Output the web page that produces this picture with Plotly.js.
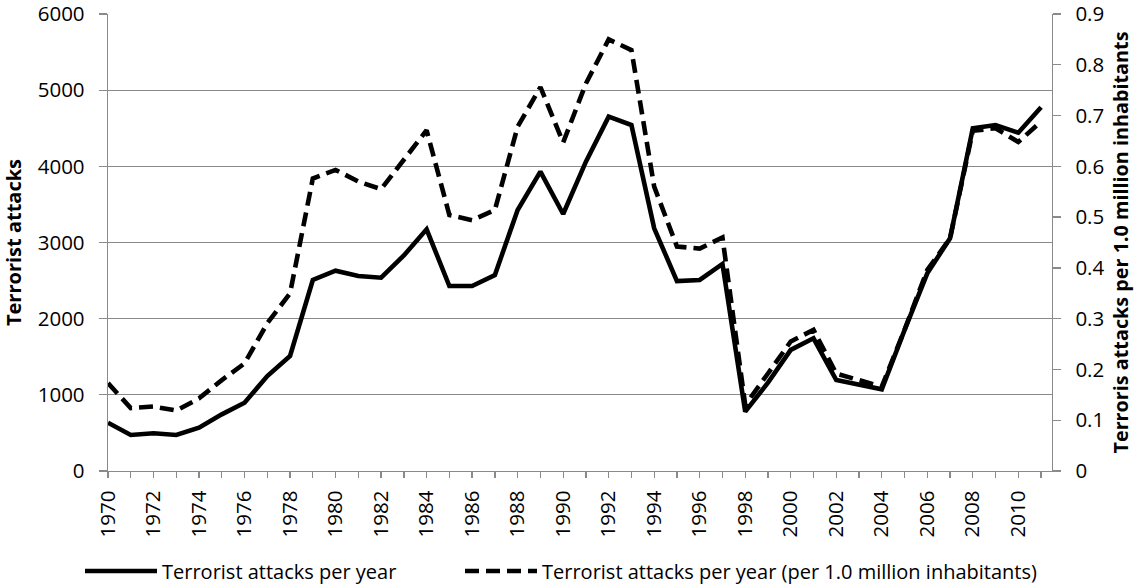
<!DOCTYPE html>
<html>
<head>
<meta charset="utf-8">
<script src="https://cdn.plot.ly/plotly-3.0.1.min.js"></script>
<style>html,body{margin:0;padding:0;background:#fff;}#chart{width:1141px;height:586px;}</style>
</head>
<body>
<div id="chart"></div>
<script>
const years = [1970,1971,1972,1973,1974,1975,1976,1977,1978,1979,1980,1981,1982,1983,1984,1985,1986,1987,1988,1989,1990,1991,1992,1993,1994,1995,1996,1997,1998,1999,2000,2001,2002,2003,2004,2005,2006,2007,2008,2009,2010,2011];
const attacksPerYear = [634,473,495,473,569,744,897,1247,1510,2508,2630,2560,2538,2830,3173,2429,2429,2573,3427,3930,3374,4061,4652,4542,3186,2494,2508,2718,779,1160,1590,1742,1195,1129,1072,1850,2595,3055,4499,4542,4442,4775];
const attacksPerMillion = [0.173,0.124,0.127,0.119,0.143,0.179,0.212,0.291,0.350,0.576,0.593,0.570,0.555,0.612,0.671,0.504,0.494,0.514,0.678,0.756,0.647,0.763,0.850,0.829,0.560,0.442,0.438,0.460,0.130,0.192,0.255,0.278,0.192,0.179,0.166,0.278,0.396,0.458,0.670,0.675,0.648,0.688];
const seriesNames = ["Terrorist attacks per year", "Terrorist attacks per year (per 1.0 million inhabitants)"];
const tickText = years.map(y => (y % 2 === 0 && y <= 2010) ? String(y) : "");

const gray = "#8a8a8a";
const font = "'Open Sans', 'Noto Sans', sans-serif";
const plotW = 1141 - 108 - 89, plotH = 586 - 14 - 115;

const traces = [
  {x: years, y: attacksPerYear, name: seriesNames[0], type: "scatter", mode: "lines",
   line: {color: "#000", width: 4.6}, yaxis: "y", legend: "legend"},
  {x: years, y: attacksPerMillion, name: seriesNames[1], type: "scatter", mode: "lines",
   line: {color: "#000", width: 4.6, dash: "14px,7px"}, yaxis: "y2", legend: "legend2"}
];

const legendCommon = {orientation: "h", xanchor: "left", yanchor: "middle", y: (471 - 571) / plotH,
  font: {family: font, size: 20, color: "#000"}, itemwidth: 72, bgcolor: "rgba(0,0,0,0)", borderwidth: 0};

const layout = {
  width: 1141, height: 586,
  margin: {l: 108, r: 89, t: 14, b: 115, autoexpand: false},
  paper_bgcolor: "#fff", plot_bgcolor: "#fff",
  font: {family: font, size: 20, color: "#000"},
  showlegend: true,
  legend: Object.assign({}, legendCommon, {x: (80 - 108) / plotW}),
  legend2: Object.assign({}, legendCommon, {x: (460 - 108) / plotW}),
  xaxis: {range: [1970, 2011.48], tickmode: "array", tickvals: years, ticktext: tickText,
          tickangle: -90, showgrid: false, zeroline: false, showline: true, linecolor: gray, linewidth: 1.3,
          ticks: "outside", ticklen: 6, tickcolor: gray, tickwidth: 1.3, automargin: false,
          ticklabelstandoff: 4, ticklabeloverflow: "allow", tickfont: {family: font, size: 20.5}},
  yaxis: {range: [0, 6000], dtick: 1000, tick0: 0, showgrid: true, gridcolor: gray, gridwidth: 1.3,
          zeroline: false, showline: true, linecolor: gray, linewidth: 1.3, automargin: false,
          ticks: "outside", ticklen: 8, tickcolor: gray, tickwidth: 1.3, ticklabelstandoff: 10,
          ticklabeloverflow: "allow", tickfont: {family: font, size: 20.5},
          title: {text: "<b>Terrorist attacks</b>", font: {family: font, size: 20}, standoff: 10}},
  yaxis2: {range: [0, 0.9], dtick: 0.1, tick0: 0, overlaying: "y", side: "right", showgrid: false,
           zeroline: false, showline: true, linecolor: gray, linewidth: 1.3, automargin: false,
           ticks: "outside", ticklen: 8, tickcolor: gray, tickwidth: 1.3, ticklabelstandoff: 10,
           ticklabeloverflow: "allow", tickfont: {family: font, size: 20.5},
           title: {text: "<b>Terroris attacks per 1.0 million inhabitants</b>", font: {family: font, size: 19.8}, standoff: 10}}
};

Plotly.newPlot("chart", traces, layout, {displayModeBar: false, staticPlot: true});
</script>
</body>
</html>
